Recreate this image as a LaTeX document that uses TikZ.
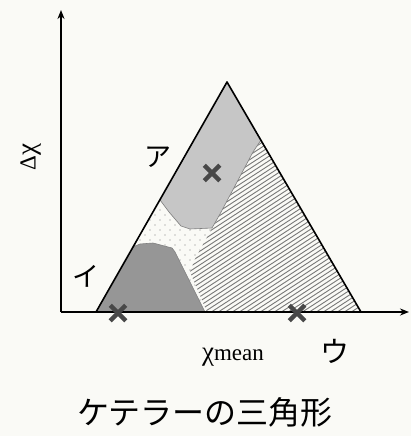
\documentclass[tikz,border=0pt]{standalone}
\usepackage{fontspec}
\setmainfont{Liberation Serif}
\newfontfamily\jpfont{Noto Sans CJK JP}
\usetikzlibrary{arrows.meta,shapes.misc}
\definecolor{paper}{RGB}{250,250,246}
\definecolor{regionA}{RGB}{198,198,198}
\definecolor{regionI}{RGB}{150,150,150}
\definecolor{marker}{RGB}{72,72,72}
\definecolor{hatch}{RGB}{120,120,120}
\newcommand\BigChi{{\fontsize{27}{27}\selectfont χ}}
\tikzset{
  arrowaxis/.style={
    line width=2pt,
    -{Stealth[length=9pt,width=7pt]}
  },
}
\tikzset{
  triedge/.style={
    line width=1.6pt,
    line join=round
  },
  border/.style={
    draw=gray,
    line width=0.6pt
  },
}
\tikzset{
  xmark/.style={
    cross out,
    draw=marker,
    line width=4.5pt,
    minimum size=11pt,
    inner sep=0pt
  },
  kana/.style={
    font=\jpfont\fontsize{27}{27}\selectfont,
    inner sep=0pt
  },
  axislabel/.style={
    font=\fontsize{23}{23}\selectfont,
    inner sep=0pt
  },
}

\begin{document}
\begin{tikzpicture}[x=1pt,y=-1pt]
    \fill[paper] (0,0) rectangle (411,436);
    \useasboundingbox (0,0) rectangle (411,436);

    \coordinate (top) at (227,82);
    \coordinate (left) at (96,312);
    \coordinate (right) at (361,312);
    \coordinate (origin) at (61,312);
    \coordinate (yend) at (61,10);
    \coordinate (xend) at (409,312);

    % dots
    \begin{scope}
      \clip (top) -- (left) -- (right) -- cycle;
      \foreach \x in {100,110,...,240}
        \foreach \y in {180,190,...,312} {
          \fill[gray] (\x,\y) circle (0.7pt);
          \fill[gray] (\x+5,\y+5) circle (0.7pt);
        }
    \end{scope}

    % hatching
    \fill[paper] (212,228) -- (220,214) -- (253,152) -- (261,140) -- (right) -- (207,312) -- (190,272) -- (195,259) -- cycle;
    \begin{scope}
      \clip (212,228) -- (220,214) -- (253,152) -- (261,140) -- (right) -- (207,312) -- (190,272) -- (195,259) -- cycle;
      \foreach \c in {-130,-123,...,370}
        \draw[hatch, line width=0.9pt] (\c,320) --++ (300,-195);
    \end{scope}

    \fill[regionA] (top) -- (160,200) -- (169,212) -- (181,226) -- (190,229) -- (212,228) -- (220,214) -- (253,152) -- (261,140) -- cycle;
    \draw[border] (160,200) -- (169,212) -- (181,226) -- (190,229) -- (212,228) -- (220,214) -- (253,152) -- (261,140);

    \fill[regionI] (left) -- (133,247) -- (140,244) -- (153,243) -- (172,248) -- (175,252) -- (205,312) -- cycle;
    \draw[border] (133,247) -- (140,244) -- (153,243) -- (172,248) -- (175,252) -- (205,312);

    \draw[triedge] (top) -- (left) -- (right) -- cycle;
    \draw[arrowaxis] (origin) -- (yend);
    \draw[arrowaxis] (origin) -- (xend);

    \node[xmark] (markA) at (212,173) {};
    \node[xmark] (markI) at (118,313) {};
    \node[xmark] (markU) at (297,313) {};

    \node[kana] (labA) at (158,157) {ア};
    \node[kana] (labI) at (86,276) {イ};
    \node[kana, font=\jpfont\fontsize{29}{29}\selectfont] (labU) at (335,351) {ウ};
    \node[axislabel, rotate=90] (ylab) at (31,157) {Δ\BigChi};
    \node[axislabel] (xlab) at (233,357) {\BigChi mean};
    \node[kana, font=\jpfont\fontsize{32}{32}\selectfont] (caption) at (205,412) {ケテラーの三角形};
\end{tikzpicture}
\end{document}
